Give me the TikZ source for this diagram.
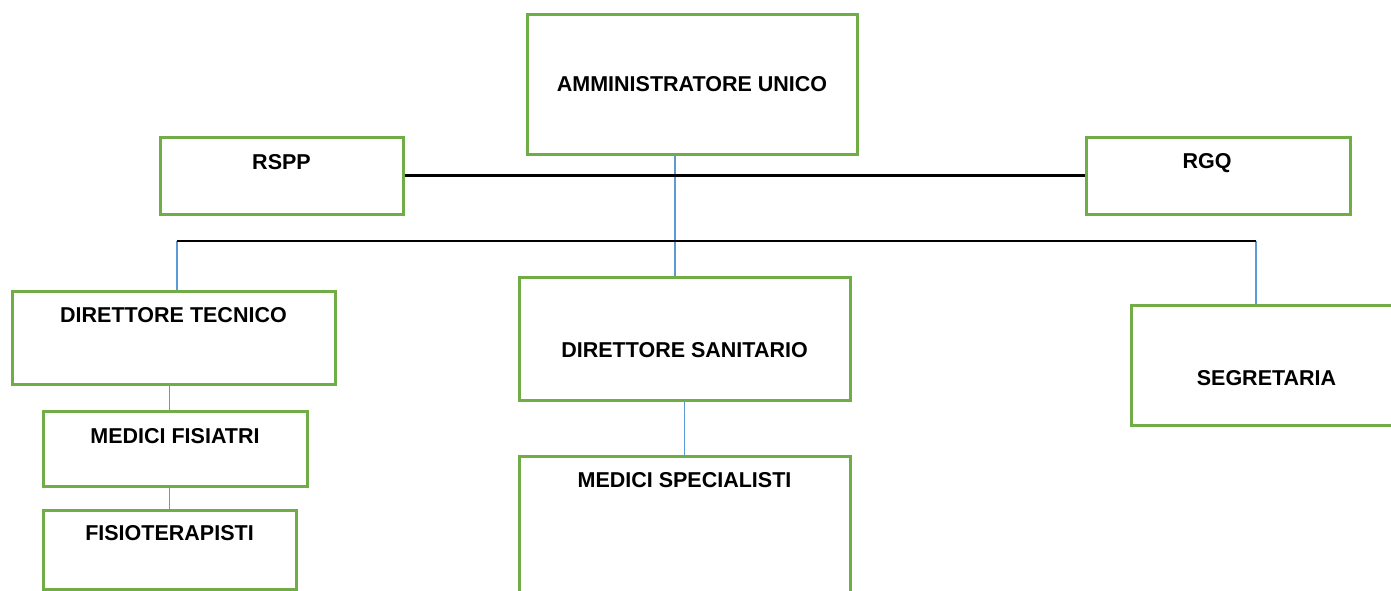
\documentclass[tikz,border=0pt]{standalone}
\usepackage{fontspec}
\setmainfont{Liberation Sans}
\usepackage{tikz}
\usetikzlibrary{positioning,calc}
\definecolor{leaf}{HTML}{70AD47}
\definecolor{sky}{HTML}{5B9BD5}
\definecolor{ink}{HTML}{000000}
\tikzset{
  unit/.style={draw=leaf,line width=3pt,inner sep=0pt,fill=white},
  tag/.style={font=\fontsize{21.5}{25}\selectfont\bfseries,text=ink,inner sep=0pt},
  link/.style={draw=sky,line width=1.5pt},
  bus/.style={draw=ink,line width=2.2pt}
}
\begin{document}
\begin{tikzpicture}[x=1pt,y=-1pt]
  \useasboundingbox (0,0) rectangle (1391,591);
  \clip (0,0) rectangle (1391,591);

  \node[unit,minimum width=330,minimum height=139,label={[tag]center:AMMINISTRATORE UNICO}] (au) at (692,84.5) {};
  \node[unit,minimum width=243,minimum height=77,label={[tag,yshift=13.5pt]center:RSPP}] (rspp) at (281.5,175.5) {};
  \node[unit,minimum width=264,minimum height=77,label={[tag,xshift=-11pt,yshift=12pt]center:RGQ}] (rgq) at (1218,175.5) {};

  \node[unit,minimum width=323,minimum height=93,label={[tag,yshift=22.5pt]center:DIRETTORE TECNICO}] (dt) at (173.5,337.5) {};
  \node[unit,minimum width=331,minimum height=123,label={[tag,yshift=-11.5pt]center:DIRETTORE SANITARIO}] (ds) at (684.5,338.5) {};
  \node[unit,minimum width=271,minimum height=120,label={[tag,yshift=-13pt]center:SEGRETARIA}] (seg) at (1266.5,365) {};

  \node[unit,minimum width=264,minimum height=75,label={[tag,yshift=12.5pt]center:MEDICI FISIATRI}] (mf) at (175,448.5) {};
  \node[unit,minimum width=253,minimum height=79,label={[tag,yshift=16.5pt]center:FISIOTERAPISTI}] (fis) at (169.5,549.5) {};
  \node[unit,minimum width=331,minimum height=160,label={[tag,yshift=56pt]center:MEDICI SPECIALISTI}] (ms) at (684.5,536) {};

  \coordinate (busL) at (177,241);
  \coordinate (busM) at (675,241);
  \coordinate (busR) at (1256,241);

  % blue links
  \draw[link] (au.south -| busM) -- (ds.north -| busM);
  \draw[link] (busL) -- (busL |- dt.north);
  \draw[link] (busR) -- (busR |- seg.north);
  \draw[link] (dt.south -| fis.north) -- (mf.north -| fis.north);
  \draw[link] (mf.south -| fis.north) -- (fis.north);
  \draw[link] (ds.south) -- (ms.north);

  % black lines
  \draw[bus] (rspp.east) -- (rgq.west);
  \draw[bus] (busL) -- (busR);
\end{tikzpicture}
\end{document}
